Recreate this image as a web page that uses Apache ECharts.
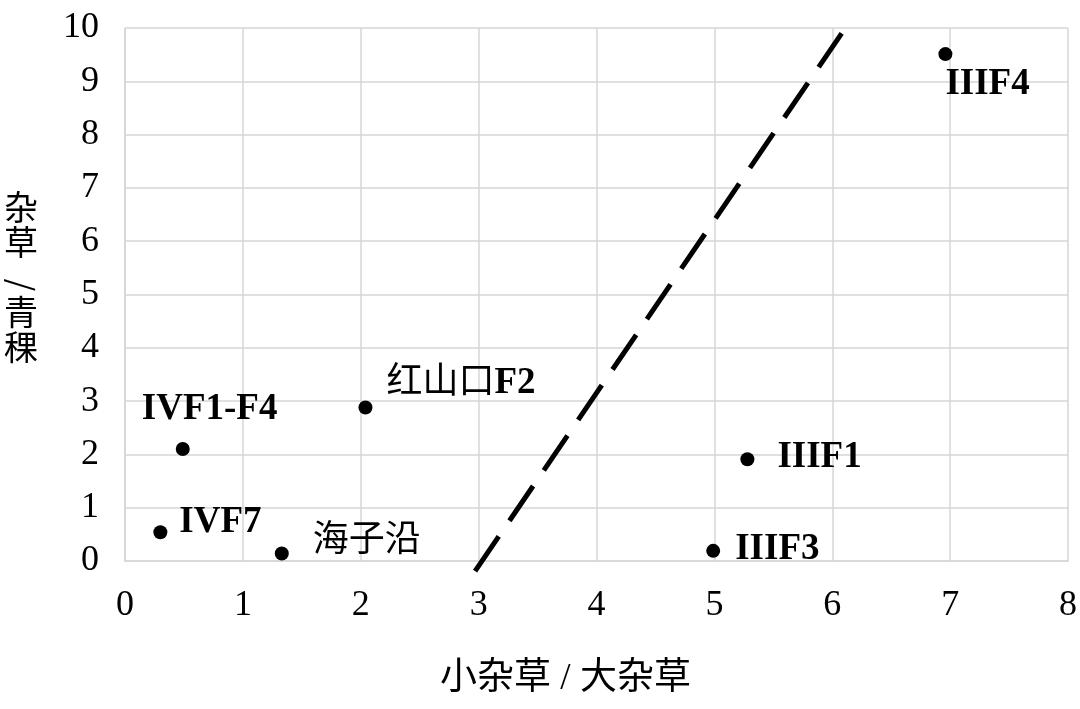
<!DOCTYPE html>
<html>
<head>
<meta charset="utf-8">
<script src="https://cdn.jsdelivr.net/npm/echarts@6/dist/echarts.min.js"></script>
<style>html,body{margin:0;padding:0;background:#fff;}#c{width:1080px;height:709px;}</style>
</head>
<body>
<div id="c"></div>
<script>
// ---- data ----
const siteNames = ['IIIF4', 'IIIF1', 'IIIF3', 'IVF1-F4', 'IVF7', '海子沿', '红山口F2'];
const xValues = [6.96, 5.28, 4.99, 0.49, 0.30, 1.33, 2.04];   // 小杂草 / 大杂草
const yValues = [9.51, 1.91, 0.19, 2.10, 0.54, 0.14, 2.88];   // 杂草 / 青稞
const dividerX = [2.97, 6.08];
const dividerY = [-0.19, 9.90];
const xTicks = [0, 1, 2, 3, 4, 5, 6, 7, 8];
const yTicks = [0, 1, 2, 3, 4, 5, 6, 7, 8, 9, 10];
const xAxisName = '小杂草 / 大杂草';
const yAxisTop = ['杂', '草'];
const yAxisSep = '/';
const yAxisBottom = ['青', '稞'];

// ---- label placement (style, not data) ----
const labelOffsets = {
  'IIIF4': [0, 30], 'IIIF1': [30, -2], 'IIIF3': [22, -1], 'IVF1-F4': [-41, -40],
  'IVF7': [19, -10], '海子沿': [31, -12], '红山口F2': [21, -24]
};

const serif = "'Liberation Serif','Times New Roman','Noto Sans CJK SC',serif";
const gridColor = '#d6d6d6';

function labelText(name) {
  const m = name.match(/^([\u4e00-\u9fff]*)(.*)$/);
  let s = '';
  if (m[1]) s += '{c|' + m[1] + '}';
  if (m[2]) s += '{b|' + m[2] + '}';
  return s;
}

const scatterData = siteNames.map((n, i) => ({
  name: n,
  value: [xValues[i], yValues[i]],
  label: {
    show: true,
    position: ['50%', '50%'],
    align: 'left',
    verticalAlign: 'middle',
    offset: labelOffsets[n],
    color: '#000',
    opacity: 1,
    formatter: () => labelText(n),
    rich: {
      b: { fontFamily: serif, fontWeight: 'bold', fontSize: 37, color: '#000' },
      c: { fontFamily: serif, fontWeight: 'normal', fontSize: 36, color: '#000' }
    }
  }
}));

const chart = echarts.init(document.getElementById('c'), null, { renderer: 'canvas' });
chart.setOption({
  backgroundColor: '#fff',
  animation: false,
  grid: { left: 125, right: 11, top: 28, bottom: 148, containLabel: false },
  xAxis: {
    type: 'value', min: xTicks[0], max: xTicks[xTicks.length - 1], interval: 1,
    name: xAxisName, nameLocation: 'middle', nameGap: 100,
    nameTextStyle: { fontFamily: serif, fontSize: 37, color: '#000', padding: [0, 62, 0, 0] },
    axisLine: { show: true, lineStyle: { color: gridColor, width: 1.5 } },
    axisTick: { show: false },
    axisLabel: { fontFamily: serif, fontSize: 36, color: '#000', margin: 27 },
    splitLine: { show: true, lineStyle: { color: gridColor, width: 1.5 } }
  },
  yAxis: {
    type: 'value', min: yTicks[0], max: yTicks[yTicks.length - 1], interval: 1,
    name: yAxisTop.concat([' '], yAxisBottom).join('\n') + '\n',
    nameLocation: 'middle', nameGap: 104, nameRotate: 0,
    nameTextStyle: { fontFamily: "'Noto Sans CJK SC',sans-serif", fontSize: 34, lineHeight: 35, color: '#000', align: 'center' },
    axisLine: { show: true, lineStyle: { color: gridColor, width: 1.5 } },
    axisTick: { show: false },
    axisLabel: { fontFamily: serif, fontSize: 36, color: '#000', margin: 26 },
    splitLine: { show: true, lineStyle: { color: gridColor, width: 1.5 } }
  },
  graphic: [
    {
      // the slash of the vertical y-axis title, turned as in vertical writing
      type: 'text', x: 22, y: 285, rotation: -Math.PI / 2,
      style: { text: yAxisSep, fontFamily: "'Noto Sans CJK SC',sans-serif", fontSize: 32, fill: '#000', align: 'center', verticalAlign: 'middle' }
    }
  ],
  series: [
    {
      type: 'line',
      data: dividerX.map((x, i) => [x, dividerY[i]]),
      clip: false,
      symbol: 'none',
      silent: true,
      lineStyle: { color: '#000', width: 5, type: [42, 19], cap: 'butt' },
      z: 3
    },
    {
      type: 'scatter',
      data: scatterData,
      symbol: 'circle',
      symbolSize: 14,
      itemStyle: { color: '#000', opacity: 1 },
      z: 4
    }
  ]
});
</script>
</body>
</html>
